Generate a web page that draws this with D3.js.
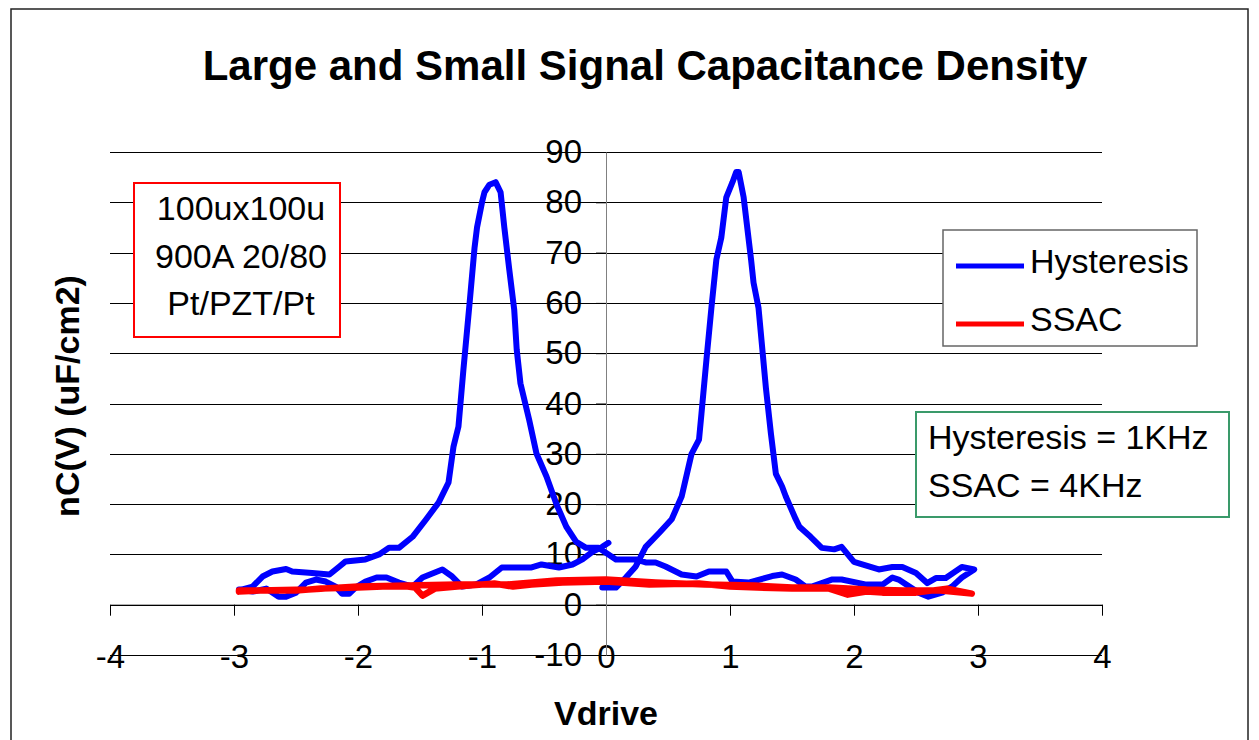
<!DOCTYPE html>
<html>
<head>
<meta charset="utf-8">
<script src="https://cdn.jsdelivr.net/npm/d3@7"></script>
<style>
  html, body { margin: 0; padding: 0; background: #fff; }
  svg text { font-family: 'Liberation Sans', Arial, sans-serif; }
</style>
</head>
<body>
<div id="chart"></div>
<script>
// x tick values and y tick values
const xTicks = [-4, -3, -2, -1, 0, 1, 2, 3, 4]
const yTicks = [-10, 0, 10, 20, 30, 40, 50, 60, 70, 80, 90]

// Hysteresis, sweep 0 -> +3
const hystUpV = [-0.03, 0.08, 0.16, 0.24, 0.32, 0.43, 0.53, 0.61, 0.69, 0.75, 0.77, 0.81, 0.85, 0.89, 0.93, 0.97, 1.02, 1.05, 1.07, 1.11, 1.17, 1.19, 1.23, 1.29, 1.33, 1.37, 1.42, 1.45, 1.53, 1.56, 1.65, 1.74, 1.84, 1.9, 2.0, 2.2, 2.31, 2.39, 2.5, 2.59, 2.66, 2.74, 2.87, 2.97]
const hystUpC = [3.4, 3.4, 5.4, 7.6, 11.5, 14.3, 17, 21.5, 30, 32.8, 38, 48.7, 59, 68.6, 73, 81, 84, 86, 86, 81, 68.6, 64, 59, 43, 34, 26, 23.5, 21.5, 17, 15.5, 13.5, 11.3, 11, 11.5, 8.5, 7, 7.5, 7.5, 6.3, 4.3, 5.3, 5.3, 7.5, 7]

// Hysteresis, sweep +3 -> -3
const hystDownV = [2.97, 2.87, 2.79, 2.71, 2.6, 2.52, 2.36, 2.31, 2.23, 2.1, 1.9, 1.82, 1.66, 1.61, 1.53, 1.42, 1.34, 1.15, 1.02, 0.97, 0.83, 0.77, 0.73, 0.61, 0.48, 0.4, 0.32, 0.24, 0.08, 0.02, -0.06, -0.16, -0.24, -0.32, -0.4, -0.48, -0.56, -0.62, -0.69, -0.72, -0.74, -0.78, -0.82, -0.85, -0.89, -0.94, -0.98, -1.0, -1.04, -1.06, -1.1, -1.15, -1.19, -1.23, -1.27, -1.35, -1.45, -1.56, -1.67, -1.75, -1.83, -1.94, -2.1, -2.15, -2.23, -2.37, -2.53, -2.58, -2.69, -2.77, -2.85, -2.94, -2.96]
const hystDownC = [7, 5.4, 3.6, 2.4, 1.6, 2.4, 5, 5.4, 4, 4, 5, 5, 3.6, 3.6, 5, 6, 5.7, 4.4, 4.6, 6.6, 6.6, 6, 5.6, 6, 7.6, 8.4, 8.4, 9, 9, 10, 11.3, 11.3, 12.5, 15.5, 20, 25.5, 30, 36.8, 44, 50.7, 58.6, 66.6, 75, 82, 84, 83.5, 82, 80, 75, 71, 60, 46.7, 35.4, 31.4, 24.3, 20.3, 17, 13.5, 11.3, 11.3, 10, 9, 8.6, 7.6, 6, 6.3, 6.6, 7.1, 6.6, 5.6, 3.6, 3, 3]

// Hysteresis, sweep -3 -> 0
const hystBackV = [-2.96, -2.85, -2.74, -2.64, -2.58, -2.5, -2.42, -2.34, -2.26, -2.18, -2.13, -2.07, -2.02, -1.94, -1.85, -1.77, -1.67, -1.56, -1.48, -1.4, -1.32, -1.24, -1.16, -1.05, -0.94, -0.84, -0.6, -0.52, -0.38, -0.27, -0.19, -0.11, -0.03, 0.02]
const hystBackC = [3, 2.6, 3.2, 1.6, 1.6, 2.4, 4.4, 5, 4.6, 3.6, 2.2, 2.2, 3.4, 4.6, 5.4, 5.4, 4.4, 3.6, 5.4, 6.2, 7, 5.6, 3.6, 4, 5.4, 7.4, 7.4, 8, 7.4, 8, 9, 10.5, 11.5, 12.3]

// SSAC, sweep -3 -> +3 and back
const ssacUpV = [-2.96, -2.8, -2.5, -2.3, -2.0, -1.8, -1.6, -1.54, -1.48, -1.38, -1.2, -0.9, -0.75, -0.6, -0.35, 0, 0.35, 0.75, 1.0, 1.5, 1.8, 1.95, 2.1, 2.23, 2.5, 2.75, 2.95]
const ssacUpC = [2.6, 2.8, 2.8, 3.2, 3.4, 3.6, 3.6, 3.4, 1.8, 3.2, 3.6, 4.2, 3.6, 4.0, 4.4, 4.6, 4.0, 4.2, 3.6, 3.2, 3.2, 2.0, 2.6, 2.4, 2.4, 3.2, 2.2]
const ssacDownV = [2.95, 2.7, 2.4, 2.1, 1.8, 1.5, 1.2, 0.8, 0.4, 0, -0.4, -0.8, -1.2, -1.6, -2.0, -2.4, -2.8, -2.96]
const ssacDownC = [2.2, 2.8, 2.8, 3.0, 3.4, 3.4, 3.8, 4.0, 4.4, 5.0, 4.8, 4.0, 4.0, 3.8, 3.6, 3.0, 2.8, 2.8]

const svg = d3
  .select('#chart')
  .append('svg')
  .attr('width', 1259)
  .attr('height', 740)

// chart border
svg
  .append('rect')
  .attr('x', 11)
  .attr('y', 9)
  .attr('width', 1237)
  .attr('height', 760)
  .attr('fill', '#fff')
  .attr('stroke', '#222')
  .attr('stroke-width', 1.5)

const x = d3.scaleLinear().domain([-4, 4]).range([110, 1102])
const y = d3.scaleLinear().domain([-10, 90]).range([655, 152])

// gridlines
svg
  .selectAll('.grid')
  .data(yTicks)
  .enter()
  .append('line')
  .attr('class', 'grid')
  .attr('x1', x(-4))
  .attr('x2', x(4))
  .attr('y1', d => Math.round(y(d)) + 0.5)
  .attr('y2', d => Math.round(y(d)) + 0.5)
  .attr('stroke', '#000')
  .attr('stroke-width', 1)

const xAxis = svg
  .append('g')
  .attr('transform', `translate(0,${y(0)})`)
  .call(
    d3
      .axisBottom(x)
      .tickValues(xTicks)
      .tickSize(11)
      .tickSizeOuter(0)
      .tickPadding(29)
      .tickFormat(d3.format('d'))
  )
xAxis.select('.domain').attr('stroke', '#000')

const yAxis = svg
  .append('g')
  .attr('transform', `translate(${x(0)},0)`)
  .call(
    d3
      .axisLeft(y)
      .tickValues(yTicks)
      .tickSize(10)
      .tickSizeOuter(0)
      .tickPadding(14)
      .tickFormat(d3.format('d'))
  )
yAxis.select('.domain').attr('stroke', '#808080')

svg
  .selectAll('.tick text')
  .attr('font-size', 33)
  .attr('font-family', "'Liberation Sans', Arial, sans-serif")
  .attr('fill', '#000')
  .text(d => String(d).replace('\u2212', '-'))

// lines
const line = d3
  .line()
  .x(d => x(d[0]))
  .y(d => y(d[1]))

const hystPoints = [].concat(
  hystUpV.map((v, i) => [v, hystUpC[i]]),
  hystDownV.map((v, i) => [v, hystDownC[i]]),
  hystBackV.map((v, i) => [v, hystBackC[i]])
)
const ssacPoints = [].concat(
  ssacUpV.map((v, i) => [v, ssacUpC[i]]),
  ssacDownV.map((v, i) => [v, ssacDownC[i]])
)

svg
  .append('path')
  .datum(hystPoints)
  .attr('d', line)
  .attr('fill', 'none')
  .attr('stroke', '#0000ff')
  .attr('stroke-width', 6)
  .attr('stroke-linejoin', 'round')
  .attr('stroke-linecap', 'round')

svg
  .append('path')
  .datum(ssacPoints)
  .attr('d', line)
  .attr('fill', 'none')
  .attr('stroke', '#ff0000')
  .attr('stroke-width', 6.5)
  .attr('stroke-linejoin', 'round')
  .attr('stroke-linecap', 'round')

// title and axis titles
svg
  .append('text')
  .text('Large and Small Signal Capacitance Density')
  .attr('x', 645)
  .attr('y', 80)
  .attr('text-anchor', 'middle')
  .attr('font-weight', 'bold')
  .attr('font-size', 42)

svg
  .append('text')
  .text('Vdrive')
  .attr('x', 606)
  .attr('y', 725)
  .attr('text-anchor', 'middle')
  .attr('font-weight', 'bold')
  .attr('font-size', 34)

svg
  .append('text')
  .text('nC(V) (uF/cm2)')
  .attr('transform', 'translate(79,396) rotate(-90)')
  .attr('text-anchor', 'middle')
  .attr('font-weight', 'bold')
  .attr('font-size', 34)

// sample box
const infoLines = ['100ux100u', '900A 20/80', 'Pt/PZT/Pt']
svg
  .append('rect')
  .attr('x', 134)
  .attr('y', 183)
  .attr('width', 206)
  .attr('height', 154)
  .attr('fill', '#fff')
  .attr('stroke', '#ff0000')
  .attr('stroke-width', 2)
svg
  .selectAll('.info')
  .data(infoLines)
  .enter()
  .append('text')
  .attr('class', 'info')
  .text(d => d)
  .attr('x', 241)
  .attr('y', (d, i) => 220 + i * 47.5)
  .attr('text-anchor', 'middle')
  .attr('font-size', 34)

// legend
const legendItems = [
  { name: 'Hysteresis', color: '#0000ff' },
  { name: 'SSAC', color: '#ff0000' }
]
const legend = svg.append('g')
legend
  .append('rect')
  .attr('x', 943)
  .attr('y', 230)
  .attr('width', 254)
  .attr('height', 116)
  .attr('fill', '#fff')
  .attr('stroke', '#666')
  .attr('stroke-width', 1.5)
legend
  .selectAll('.item')
  .data(legendItems)
  .enter()
  .append('g')
  .attr('transform', (d, i) => `translate(0,${266 + i * 58})`)
  .each(function(d) {
    const g = d3.select(this)
    g.append('line')
      .attr('x1', 956)
      .attr('x2', 1024)
      .attr('stroke', d.color)
      .attr('stroke-width', 5)
    g.append('text')
      .text(d.name)
      .attr('x', 1030)
      .attr('y', 7)
      .attr('font-size', 34)
  })

// frequency box
const freqLines = ['Hysteresis = 1KHz', 'SSAC = 4KHz']
svg
  .append('rect')
  .attr('x', 916)
  .attr('y', 412)
  .attr('width', 313)
  .attr('height', 105)
  .attr('fill', '#fff')
  .attr('stroke', '#3a9a6a')
  .attr('stroke-width', 2)
svg
  .selectAll('.freq')
  .data(freqLines)
  .enter()
  .append('text')
  .attr('class', 'freq')
  .text(d => d)
  .attr('x', 928)
  .attr('y', (d, i) => 449 + i * 48)
  .attr('font-size', 34)
</script>
</body>
</html>
